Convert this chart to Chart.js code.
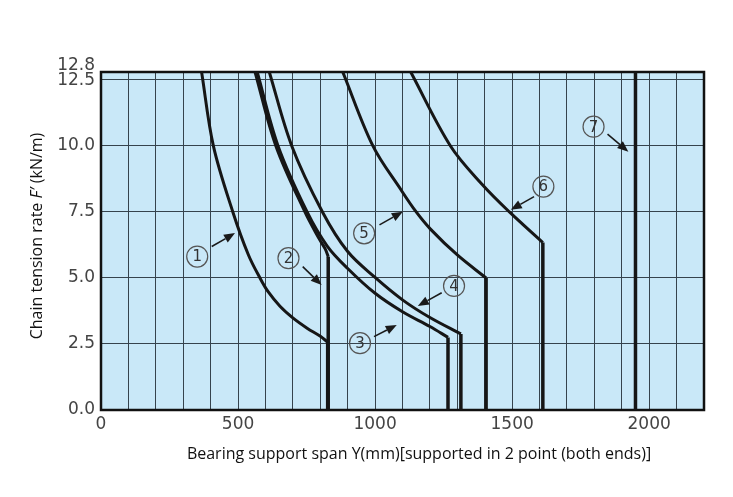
<!DOCTYPE html>
<html>
<head>
<meta charset="utf-8">
<script src="https://cdn.jsdelivr.net/npm/chart.js@4.4.1/dist/chart.umd.min.js"></script>
<style>
  html, body { margin: 0; padding: 0; background: #fff; }
  #wrap { width: 733px; height: 497px; }
</style>
</head>
<body>
<div id="wrap"><canvas id="spanChart" width="733" height="497"></canvas></div>
<script>
// Axis ticks
const xGrid = [0, 100, 200, 300, 400, 500, 600, 700, 800, 900, 1000, 1100,
               1200, 1300, 1400, 1500, 1600, 1700, 1800, 1900, 2000, 2100, 2200];
const xLabels = [0, 500, 1000, 1500, 2000];
const yTicks = [0, 2.5, 5, 7.5, 10, 12.5, 12.8];

// Curves: bearing span (mm) vs chain tension rate (kN/m)
const span1 = [367, 410, 481, 538, 581, 609, 653, 701, 752, 799, 827];
const rate1 = [12.8, 10.0, 7.5, 5.87, 4.98, 4.49, 3.93, 3.48, 3.10, 2.80, 2.57];
const span2 = [562, 638, 744, 795, 818, 829];
const rate2 = [12.8, 10.0, 7.5, 6.5, 6.1, 5.8];
const span3 = [570, 646, 752, 826, 900, 1000, 1100, 1200, 1266];
const rate3 = [12.8, 10.0, 7.5, 6.2, 5.36, 4.42, 3.72, 3.16, 2.75];
const span4 = [614, 696, 808, 900, 1000, 1100, 1200, 1313];
const rate4 = [12.8, 10.0, 7.5, 6.0, 5.02, 4.17, 3.5, 2.88];
const span5 = [882, 992, 1095, 1150, 1202, 1300, 1405];
const rate5 = [12.8, 10.0, 8.33, 7.5, 6.85, 5.87, 5.0];
const span6 = [1130, 1275, 1390, 1490, 1612];
const rate6 = [12.8, 10.0, 8.55, 7.5, 6.34];

// Limit lines: span where each curve drops straight to zero
const dropSpan = [827, 829, 1266, 1313, 1405, 1612, 1950];
const dropTop  = [2.57, 5.8, 2.75, 2.88, 5.0, 6.34, 12.8];

// Curve callouts (numbers, circle centre, arrow tail, arrow tip)
const markText = ['1', '2', '3', '4', '5', '6', '7'];
const markAt   = [[351, 5.81], [684, 5.75], [945, 2.53], [1288, 4.70], [960, 6.69], [1614, 8.46], [1797, 10.73]];
const arrowFrom = [[404, 6.19], [736, 5.43], [996, 2.78], [1243, 4.44], [1016, 7.01], [1580, 8.08], [1848, 10.45]];
const arrowTo   = [[489, 6.70], [805, 4.73], [1079, 3.22], [1156, 3.94], [1101, 7.51], [1495, 7.58], [1924, 9.78]];

function pts(xs, ys) {
    return xs.map((x, i) => ({ x: x, y: ys[i] }));
}

const curves = [
    pts(span1, rate1), pts(span2, rate2), pts(span3, rate3),
    pts(span4, rate4), pts(span5, rate5), pts(span6, rate6)
];

const datasets = [];
curves.forEach(c => {
    datasets.push({
        data: c,
        borderColor: '#161616',
        borderWidth: 3,
        pointRadius: 0,
        tension: 0.35,
        fill: false
    });
});
dropSpan.forEach((x, i) => {
    datasets.push({
        data: [{ x: x, y: dropTop[i] }, { x: x, y: 0 }],
        borderColor: '#161616',
        borderWidth: 3.5,
        pointRadius: 0,
        tension: 0,
        fill: false
    });
});

const tickFont = { family: 'DejaVu Sans', size: 17 };
const titleFont = '"Open Sans", sans-serif';

// Background, frame, y labels, titles and callouts
const decor = {
    id: 'decor',
    beforeDraw(chart) {
        const { ctx, chartArea: a } = chart;
        ctx.save();
        ctx.fillStyle = '#c9e8f8';
        ctx.fillRect(a.left, a.top, a.right - a.left, a.bottom - a.top);
        ctx.restore();
    },
    beforeDatasetsDraw(chart) {
        const { ctx, chartArea: a } = chart;
        ctx.save();
        ctx.strokeStyle = '#111';
        ctx.lineWidth = 2.5;
        ctx.strokeRect(a.left, a.top, a.right - a.left, a.bottom - a.top);
        ctx.restore();
    },
    afterDraw(chart) {
        const { ctx, chartArea: a } = chart;
        const xs = chart.scales.x, ys = chart.scales.y;
        ctx.save();

        // y tick labels
        ctx.font = tickFont.size + 'px "' + tickFont.family + '"';
        ctx.fillStyle = '#444';
        ctx.textAlign = 'right';
        ctx.textBaseline = 'middle';
        yTicks.forEach(v => {
            let py = ys.getPixelForValue(v);
            if (v === 12.8) py -= 6;
            else if (v === 12.5) py += 1;
            ctx.fillText(v.toFixed(1), a.left - 6, py);
        });

        // x title
        ctx.fillStyle = '#111';
        ctx.font = '16px ' + titleFont;
        ctx.textAlign = 'center';
        ctx.fillText('Bearing support span Y(mm)[supported in 2 point (both ends)]', 419, 454);

        // y title with italic F'
        const parts = [
            ['Chain tension rate ', 'normal'],
            ['F\u2032', 'italic'],
            [' (kN/m)', 'normal']
        ];
        let total = 0;
        parts.forEach(p => {
            ctx.font = p[1] + ' 16px ' + titleFont;
            total += ctx.measureText(p[0]).width;
        });
        ctx.translate(37, 236);
        ctx.rotate(-Math.PI / 2);
        ctx.textAlign = 'left';
        let cx = -total / 2;
        parts.forEach(p => {
            ctx.font = p[1] + ' 16px ' + titleFont;
            ctx.fillText(p[0], cx, 0);
            cx += ctx.measureText(p[0]).width;
        });
        ctx.setTransform(1, 0, 0, 1, 0, 0);
        ctx.restore();

        // callouts
        ctx.save();
        markText.forEach((t, i) => {
            const cxp = xs.getPixelForValue(markAt[i][0]);
            const cyp = ys.getPixelForValue(markAt[i][1]);
            ctx.beginPath();
            ctx.arc(cxp, cyp, 10.5, 0, Math.PI * 2);
            ctx.strokeStyle = '#555';
            ctx.lineWidth = 1.2;
            ctx.stroke();
            ctx.fillStyle = '#333';
            ctx.font = '15px "DejaVu Sans"';
            ctx.textAlign = 'center';
            ctx.textBaseline = 'middle';
            ctx.fillText(t, cxp, cyp + 1);

            const x0 = xs.getPixelForValue(arrowFrom[i][0]);
            const y0 = ys.getPixelForValue(arrowFrom[i][1]);
            const x1 = xs.getPixelForValue(arrowTo[i][0]);
            const y1 = ys.getPixelForValue(arrowTo[i][1]);
            const ang = Math.atan2(y1 - y0, x1 - x0);
            const hl = 11, hw = 4.5;
            const bx = x1 - hl * Math.cos(ang), by = y1 - hl * Math.sin(ang);
            ctx.beginPath();
            ctx.moveTo(x0, y0);
            ctx.lineTo(bx, by);
            ctx.strokeStyle = '#1a1a1a';
            ctx.lineWidth = 1.6;
            ctx.stroke();
            ctx.beginPath();
            ctx.moveTo(x1, y1);
            ctx.lineTo(bx + hw * Math.sin(ang), by - hw * Math.cos(ang));
            ctx.lineTo(bx - hw * Math.sin(ang), by + hw * Math.cos(ang));
            ctx.closePath();
            ctx.fillStyle = '#1a1a1a';
            ctx.fill();
        });
        ctx.restore();
    }
};

new Chart(document.getElementById('spanChart'), {
    type: 'line',
    data: { datasets: datasets },
    options: {
        responsive: false,
        animation: false,
        devicePixelRatio: 1,
        layout: { padding: { left: 0, top: 72, right: 29, bottom: 0 } },
        plugins: {
            legend: { display: false },
            tooltip: { enabled: false }
        },
        scales: {
            x: {
                type: 'linear',
                min: 0,
                max: 2200,
                afterBuildTicks: s => { s.ticks = xGrid.map(v => ({ value: v })); },
                afterFit: s => { s.height = 87; },
                ticks: {
                    autoSkip: false,
                    maxRotation: 0,
                    padding: 4,
                    color: '#444',
                    font: tickFont,
                    callback: v => xLabels.includes(v) ? String(v) : ''
                },
                grid: { color: '#36434d', lineWidth: 1, drawTicks: false },
                border: { display: false }
            },
            y: {
                type: 'linear',
                min: 0,
                max: 12.8,
                afterBuildTicks: s => { s.ticks = yTicks.map(v => ({ value: v })); },
                afterFit: s => { s.width = 101; },
                ticks: { display: false },
                grid: { color: '#36434d', lineWidth: 1, drawTicks: false },
                border: { display: false }
            }
        }
    },
    plugins: [decor]
});
</script>
</body>
</html>
